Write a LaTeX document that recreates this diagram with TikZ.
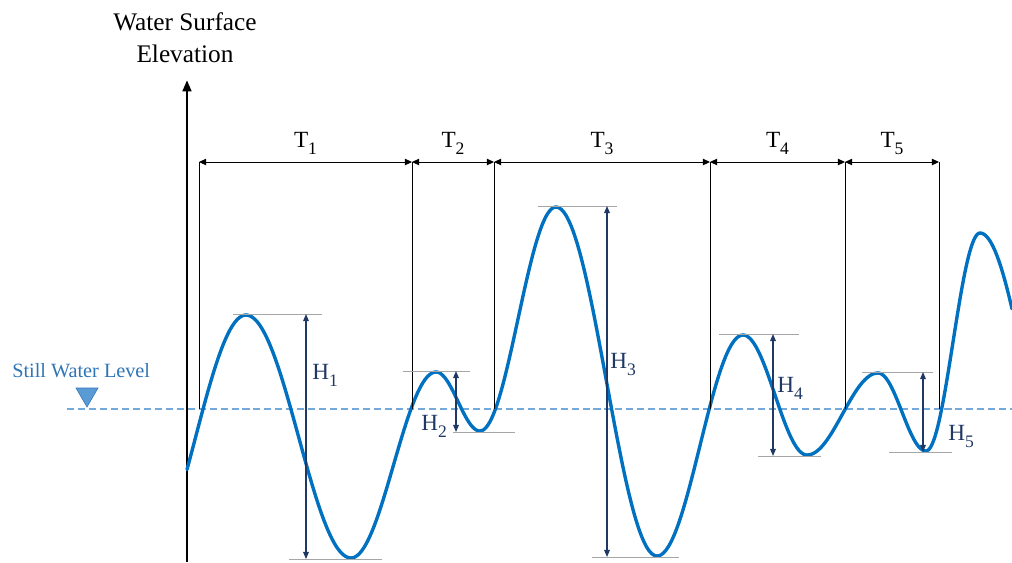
\documentclass[tikz,border=0pt]{standalone}
\usepackage{fontspec}
\setmainfont{Liberation Serif}
\usetikzlibrary{arrows.meta}
\definecolor{waveC} {RGB}{  0,112,192}
\definecolor{swlC}  {RGB}{ 91,155,213}
\definecolor{swlTxt}{RGB}{ 46,117,182}
\definecolor{hC}    {RGB}{ 31, 56,100}
\definecolor{guideC}{RGB}{166,166,166}
\newcommand{\wsub}[1]{\raisebox{-0.32em}{\fontsize{12.5}{12.5}\selectfont #1}}

\begin{document}
\begin{tikzpicture}[x=0.025cm, y=-0.025cm,
  wave/.style={waveC, line width=2.4pt, line cap=round},
  tline/.style={black, line width=0.7pt},
  tarrow/.style={black, line width=0.7pt, {Triangle[length=5pt,width=4.5pt]}-{Triangle[length=5pt,width=4.5pt]}},
  harrow/.style={hC, line width=0.8pt, {Triangle[length=5pt,width=4pt]}-{Triangle[length=5pt,width=4pt]}},
  guide/.style={guideC, line width=0.6pt},
  tlbl/.style={font=\fontsize{16.5}{19}\selectfont, inner sep=0pt, anchor=base, yshift=10.5pt},
  hlbl/.style={font=\fontsize{16.5}{19}\selectfont, text=hC, inner sep=0pt, anchor=base west}]

\useasboundingbox (0,0) rectangle (1012,562);

% ============================================================
% Still water level and axis
% ============================================================
\draw[swlC!85, line width=0.8pt, dash pattern=on 5pt off 2.8pt] (67,409) -- (1012,409);
\filldraw[fill=swlC, draw=swlTxt, line width=0.4pt]
  (76,388) -- (98,388) -- (87,407) -- cycle;
\node[anchor=base west, inner sep=0pt, text=swlTxt, font=\fontsize{14.4}{17}\selectfont]
  (swl) at (12,377) {Still Water Level};

\coordinate (ax0) at (187,562);
\coordinate (ax1) at (187,80);
\draw[black, line width=2.1pt, -{Triangle[length=8pt,width=6pt]}] (ax0) -- (ax1);
\node[align=center, font=\fontsize{18}{22.8}\selectfont, inner sep=0pt]
  (title) at (185,38) {Water Surface\\Elevation};

% ============================================================
% Wave record: half-cosine pieces between crests and troughs
% ============================================================
\draw[wave] plot[domain=187:246, samples=30, smooth]
  (\x, {560 + (315-560)*(1-cos((\x-145)/(246-145)*180))/2});
\foreach \xa/\ya/\xb/\yb in {246/315/351/558, 351/558/436/372, 436/372/480/431,
    480/431/556/207, 556/207/657/556, 657/556/743/335, 743/335/807/455,
    807/455/878/373, 878/373/926/451, 926/451/980/233}{
  \draw[wave] plot[domain=\xa:\xb, samples=40, smooth]
    (\x, {\ya + (\yb-\ya)*(1-cos((\x-\xa)/(\xb-\xa)*180))/2});
}
\draw[wave] plot[domain=980:1012, samples=20, smooth]
  (\x, {233 + (560-233)*(1-cos((\x-980)/(1080-980)*180))/2});

% ============================================================
% Zero up-crossing periods T
% ============================================================
\foreach \i/\x in {0/199, 1/412, 2/494, 3/710, 4/845, 5/939}{
  \coordinate (t\i) at (\x,162);
  \coordinate (s\i) at (\x,409);
  \draw[tline] (t\i) -- (s\i);
}
\foreach \a/\b/\n in {0/1/1, 1/2/2, 2/3/3, 3/4/4, 4/5/5}{
  \draw[tarrow] (t\a) -- node[tlbl] (T\n) {T\wsub{\n}} (t\b);
}

% ============================================================
% Wave heights H
% ============================================================
\foreach \n/\x/\yt/\yb/\la/\lb/\ra/\rb in {1/306/314/559/233/322/289/382,
    2/456/371/432/403/470/453/515, 3/607/206/557/538/617/592/679,
    4/773/334/456/719/799/758/821, 5/923/372/452/862/933/889/952}{
  \draw[guide] (\la,\yt) -- (\lb,\yt);
  \draw[guide] (\ra,\yb) -- (\rb,\yb);
  \coordinate (hc\n) at (\x,\yt);
  \coordinate (hr\n) at (\x,\yb);
  \draw[harrow] (hr\n) -- (hc\n);
}
\node[hlbl] (H1) at (312,379) {H\wsub{1}};
\node[hlbl] (H2) at (421,430) {H\wsub{2}};
\node[hlbl] (H3) at (610,368) {H\wsub{3}};
\node[hlbl] (H4) at (777,392) {H\wsub{4}};
\node[hlbl] (H5) at (948,440) {H\wsub{5}};

\end{tikzpicture}
\end{document}
